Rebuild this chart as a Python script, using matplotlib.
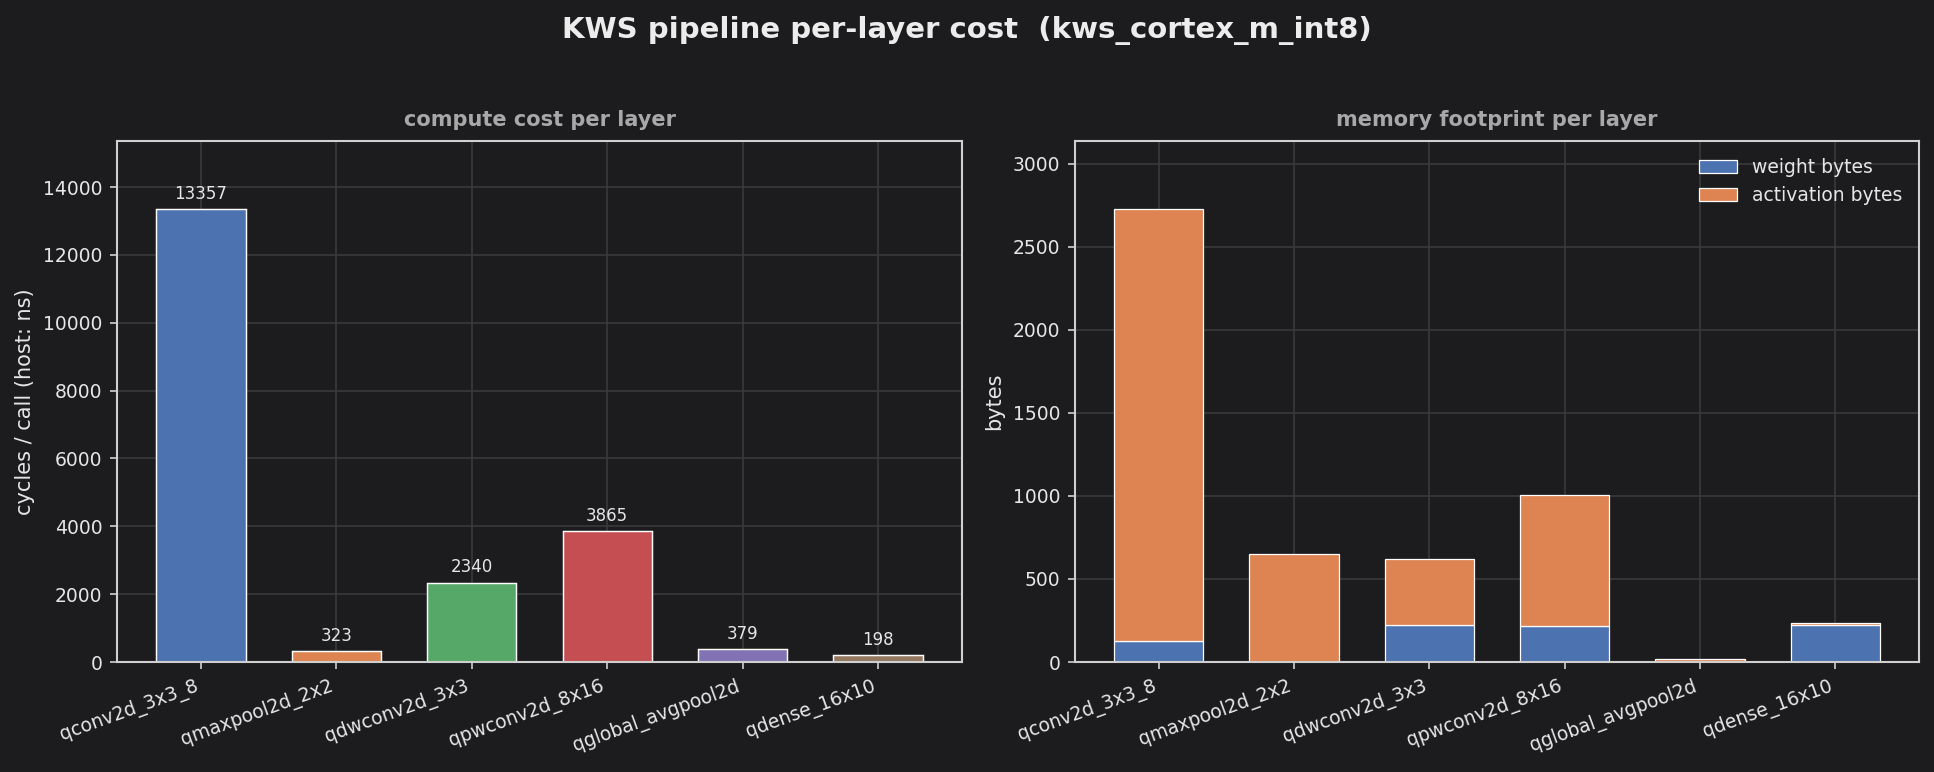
import numpy as np
import matplotlib
matplotlib.use('Agg')
import matplotlib.pyplot as plt

# ── data ──
LAYERS = ['qconv2d_3x3_8', 'qmaxpool2d_2x2', 'qdwconv2d_3x3',
          'qpwconv2d_8x16', 'qglobal_avgpool2d', 'qdense_16x10']
CYCLES = [13357, 323, 2340, 3865, 379, 198]
WEIGHT_BYTES = [126, 0, 224, 217, 0, 220]
ACT_BYTES = [2602, 648, 399, 790, 16, 16]

BAR_COLORS = ['#4C72B0', '#DD8452', '#55A868', '#C44E52', '#8172B3', '#937860']
BG = '#1c1c1e'
FG = '#e6e6e6'
GRID = '#3a3a3c'

plt.rcParams.update({
    'font.family': 'DejaVu Sans', 'font.size': 9,
    'figure.facecolor': BG, 'axes.facecolor': BG,
    'axes.edgecolor': '#cfcfcf', 'axes.labelcolor': FG,
    'xtick.color': '#cfcfcf', 'ytick.color': '#cfcfcf',
    'xtick.labelcolor': FG, 'ytick.labelcolor': FG,
    'text.color': FG,
})

W, H, DPI = 1934, 772, 150
fig = plt.figure(figsize=(W / DPI, H / DPI), dpi=DPI)
# axes boxes in pixels: left, right, top, bottom
ax1 = fig.add_axes([117 / W, 1 - 662 / H, (962 - 117) / W, (662 - 141) / H])
ax2 = fig.add_axes([1075 / W, 1 - 662 / H, (1919 - 1075) / W, (662 - 141) / H])

x = np.arange(len(LAYERS))
width = 0.66

for ax in (ax1, ax2):
    ax.set_axisbelow(True)
    ax.grid(True, color=GRID, linewidth=0.8)
    for s in ax.spines.values():
        s.set_linewidth(1.0)
    ax.set_xticks(x)
    ax.set_xticklabels(LAYERS, rotation=20, ha='right')
    ax.set_xlim(-0.62, len(LAYERS) - 0.38)

# ── compute cost ──
bars = ax1.bar(x, CYCLES, width, color=BAR_COLORS, edgecolor='white', linewidth=0.7)
for b, v in zip(bars, CYCLES):
    ax1.annotate(f'{v}', (b.get_x() + b.get_width() / 2, v),
                 xytext=(0, 3), textcoords='offset points',
                 ha='center', va='bottom', fontsize=8, color=FG)
ax1.set_ylim(0, max(CYCLES) * 1.15)
ax1.set_ylabel('cycles / call (host: ns)', fontsize=10)
ax1.set_title('compute cost per layer', fontsize=10, fontweight='bold',
              color='#a8a8a8', pad=7)

# ── memory footprint ──
ax2.bar(x, WEIGHT_BYTES, width, color='#4C72B0', edgecolor='white',
        linewidth=0.6, label='weight bytes')
ax2.bar(x, ACT_BYTES, width, bottom=WEIGHT_BYTES, color='#DD8452',
        edgecolor='white', linewidth=0.6, label='activation bytes')
totals = np.array(WEIGHT_BYTES) + np.array(ACT_BYTES)
ax2.set_ylim(0, totals.max() * 1.15)
ax2.set_ylabel('bytes', fontsize=10)
ax2.set_title('memory footprint per layer', fontsize=10, fontweight='bold',
              color='#a8a8a8', pad=7)
leg = ax2.legend(loc='upper right', frameon=False, fontsize=9)
for t in leg.get_texts():
    t.set_color(FG)

fig.suptitle('KWS pipeline per-layer cost  (kws_cortex_m_int8)',
             fontsize=14, fontweight='bold', color='#ececec', y=0.979)

fig.savefig('out.png', dpi=DPI, facecolor=BG)
